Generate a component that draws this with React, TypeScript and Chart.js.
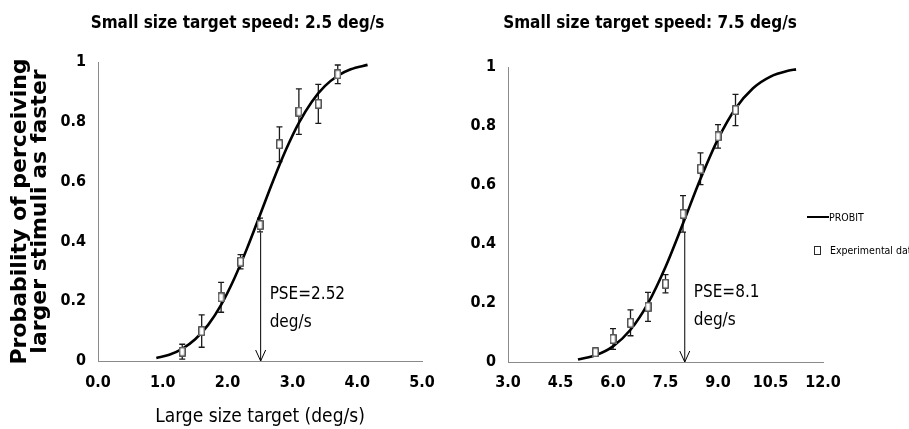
import React, { useEffect, useRef } from "react";
import { Chart, registerables } from "chart.js";

Chart.register(...registerables);

// ---------------- Data ----------------
const leftTitle = "Small size target speed: 2.5 deg/s";
const rightTitle = "Small size target speed: 7.5 deg/s";
const xAxisTitle = "Large size target (deg/s)";
const yAxisTitle = ["Probability of perceiving", "larger stimuli as faster"];
const legendLabels = ["PROBIT", "Experimental data"];

const leftXTicks = [0, 1, 2, 3, 4, 5];
const rightXTicks = [3, 4.5, 6, 7.5, 9, 10.5, 12];
const yTicks = [0, 0.2, 0.4, 0.6, 0.8, 1];

const leftDataX = [1.3, 1.6, 1.9, 2.2, 2.5, 2.8, 3.1, 3.4, 3.7];
const leftDataY = [0.031, 0.1, 0.213, 0.332, 0.455, 0.725, 0.834, 0.86, 0.959];
const leftDataErr = [0.025, 0.054, 0.05, 0.024, 0.023, 0.058, 0.076, 0.065, 0.031];
const leftCurveX = [0.9, 1.1, 1.3, 1.5, 1.7, 1.9, 2.1, 2.3, 2.5, 2.7, 2.9, 3.1, 3.3, 3.5, 3.7, 3.9, 4.16];
const leftCurveY = [0.0103, 0.0212, 0.0407, 0.0726, 0.1208, 0.1878, 0.2743, 0.3767, 0.4886, 0.6014, 0.7064, 0.7964, 0.8674, 0.9192, 0.9541, 0.9757, 0.9904];
const leftPSE = 2.51;
const leftPSELabel = ["PSE=2.52", "deg/s"];

const rightDataX = [5.5, 6.0, 6.5, 7.0, 7.5, 8.0, 8.5, 9.0, 9.5];
const rightDataY = [0.033, 0.078, 0.133, 0.187, 0.265, 0.502, 0.655, 0.765, 0.854];
const rightDataErr = [0.014, 0.035, 0.044, 0.049, 0.031, 0.062, 0.054, 0.04, 0.053];
const rightCurveX = [5.0, 5.5, 6.0, 6.5, 7.0, 7.5, 8.0, 8.5, 9.0, 9.5, 10.0, 10.5, 11.0, 11.23];
const rightCurveY = [0.0085, 0.0228, 0.0531, 0.1092, 0.1987, 0.3222, 0.4693, 0.6208, 0.7556, 0.8593, 0.9281, 0.9676, 0.9872, 0.992];
const rightPSE = 8.05;
const rightPSELabel = ["PSE=8.1", "deg/s"];

// ---------------- Styling ----------------
const COND = "'DejaVu Sans Condensed', 'DejaVu Sans', sans-serif";
const AXIS_GRAY = "#8a8a8a";

type PanelCfg = {
  title: string;
  xTicks: number[];
  dataX: number[];
  dataY: number[];
  dataErr: number[];
  curveX: number[];
  curveY: number[];
  pse: number;
  pseLabel: string[];
  arrowTop: number;
  labelY: number[];
  showXTitle: boolean;
  showYTitle: boolean;
  yWidth: number;
  xHeight: number;
  rightSpace: number;
  titleBottom: number;
  xTickPad: number;
};

const leftPanel: PanelCfg = {
  title: leftTitle,
  xTicks: leftXTicks,
  dataX: leftDataX,
  dataY: leftDataY,
  dataErr: leftDataErr,
  curveX: leftCurveX,
  curveY: leftCurveY,
  pse: leftPSE,
  pseLabel: leftPSELabel,
  arrowTop: 0.43,
  labelY: [0.221, 0.129],
  showXTitle: true,
  showYTitle: true,
  yWidth: 98,
  xHeight: 68,
  rightSpace: 53,
  titleBottom: 28.3,
  xTickPad: 11.9,
};

const rightPanel: PanelCfg = {
  title: rightTitle,
  xTicks: rightXTicks,
  dataX: rightDataX,
  dataY: rightDataY,
  dataErr: rightDataErr,
  curveX: rightCurveX,
  curveY: rightCurveY,
  pse: rightPSE,
  pseLabel: rightPSELabel,
  arrowTop: 0.44,
  labelY: [0.236, 0.141],
  showXTitle: false,
  showYTitle: false,
  yWidth: 68,
  xHeight: 67,
  rightSpace: 37,
  titleBottom: 33.3,
  xTickPad: 10.9,
};

function makeSquare(): HTMLCanvasElement {
  const c = document.createElement("canvas");
  c.width = 7;
  c.height = 10;
  const g = c.getContext("2d")!;
  g.fillStyle = "#ffffff";
  g.fillRect(0, 0, 7, 10);
  g.strokeStyle = "#2a2a2a";
  g.lineWidth = 1.2;
  g.strokeRect(0.8, 0.8, 5.4, 8.4);
  return c;
}

function overlayPlugin(p: PanelCfg) {
  return {
    id: "overlay",
    beforeDatasetsDraw(chart: any) {
      const { ctx, scales } = chart;
      const x = scales.x;
      const y = scales.y;
      ctx.save();
      // error bars
      ctx.strokeStyle = "#1a1a1a";
      ctx.lineWidth = 1.3;
      p.dataX.forEach((xv, i) => {
        const px = x.getPixelForValue(xv);
        const top = y.getPixelForValue(p.dataY[i] + p.dataErr[i]);
        const bot = y.getPixelForValue(p.dataY[i] - p.dataErr[i]);
        ctx.beginPath();
        ctx.moveTo(px, top);
        ctx.lineTo(px, bot);
        ctx.moveTo(px - 3, top);
        ctx.lineTo(px + 3, top);
        ctx.moveTo(px - 3, bot);
        ctx.lineTo(px + 3, bot);
        ctx.stroke();
      });
      // PSE arrow
      const ax = x.getPixelForValue(p.pse);
      const aTop = y.getPixelForValue(p.arrowTop);
      const aBot = y.getPixelForValue(0);
      ctx.strokeStyle = "#000";
      ctx.lineWidth = 1;
      ctx.beginPath();
      ctx.moveTo(ax, aTop);
      ctx.lineTo(ax, aBot);
      ctx.moveTo(ax - 5, aBot - 11);
      ctx.lineTo(ax, aBot);
      ctx.lineTo(ax + 5, aBot - 11);
      ctx.stroke();
      ctx.restore();
    },
    afterDatasetsDraw(chart: any) {
      const { ctx, scales } = chart;
      const x = scales.x;
      const y = scales.y;
      ctx.save();
      ctx.fillStyle = "#000";
      ctx.font = `17px ${COND}`;
      ctx.textAlign = "left";
      ctx.textBaseline = "middle";
      const ax = x.getPixelForValue(p.pse) + 9;
      p.pseLabel.forEach((t, i) => {
        ctx.fillText(t, ax, y.getPixelForValue(p.labelY[i]));
      });
      ctx.restore();
    },
  };
}

function buildConfig(p: PanelCfg): any {
  const square = makeSquare();
  const tickFont = { family: COND, size: 16, weight: "bold" as const };
  return {
    type: "scatter",
    data: {
      datasets: [
        {
          type: "scatter",
          label: legendLabels[1],
          data: p.dataX.map((v, i) => ({ x: v, y: p.dataY[i] })),
          pointStyle: square,
          pointRadius: 5,
          order: 0,
        },
        {
          type: "line",
          label: legendLabels[0],
          data: p.curveX.map((v, i) => ({ x: v, y: p.curveY[i] })),
          borderColor: "#000",
          borderWidth: 2.6,
          pointRadius: 0,
          fill: false,
          cubicInterpolationMode: "monotone",
          order: 1,
        },
      ],
    },
    options: {
      responsive: false,
      animation: false,
      events: [],
      layout: { padding: 0 },
      plugins: {
        legend: { display: false },
        tooltip: { enabled: false },
        title: {
          display: true,
          text: p.title,
          color: "#000",
          font: { family: COND, size: 17, weight: "bold", lineHeight: 1.2 },
          padding: { top: 13.3, bottom: p.titleBottom },
        },
      },
      scales: {
        x: {
          type: "linear",
          min: p.xTicks[0],
          max: p.xTicks[p.xTicks.length - 1],
          afterBuildTicks: (s: any) => {
            s.ticks = p.xTicks.map((v) => ({ value: v }));
          },
          afterFit: (s: any) => {
            s.height = p.xHeight;
          },
          ticks: {
            callback: (v: any) => Number(v).toFixed(1),
            color: "#000",
            font: tickFont,
            padding: p.xTickPad,
            maxRotation: 0,
            autoSkip: false,
          },
          grid: { display: false, drawTicks: false },
          border: { display: true, color: AXIS_GRAY, width: 1 },
          title: {
            display: p.showXTitle,
            text: xAxisTitle,
            color: "#000",
            font: { family: COND, size: 19, lineHeight: 1.2 },
            padding: { top: 0, bottom: 1 },
          },
        },
        y: {
          type: "linear",
          min: 0,
          max: 1,
          afterBuildTicks: (s: any) => {
            s.ticks = yTicks.map((v) => ({ value: v }));
          },
          afterFit: (s: any) => {
            s.width = p.yWidth;
          },
          ticks: {
            callback: (v: any) => String(Math.round(Number(v) * 10) / 10),
            color: "#000",
            font: tickFont,
            padding: 12,
          },
          grid: { display: false, drawTicks: false },
          border: { display: true, color: AXIS_GRAY, width: 1 },
          title: {
            display: p.showYTitle,
            text: yAxisTitle,
            color: "#000",
            font: { family: "'DejaVu Sans', sans-serif", size: 22, weight: "bold", lineHeight: "20px" },
            padding: { top: 10, bottom: 0 },
          },
        },
        // empty spacer on the right so the full-width title stays centred like the figure
        spacer: {
          type: "linear",
          position: "right",
          display: true,
          min: 0,
          max: 1,
          afterFit: (s: any) => {
            s.width = p.rightSpace;
          },
          ticks: { display: false },
          grid: { display: false, drawTicks: false },
          border: { display: false },
          title: { display: false },
        },
      },
    },
    plugins: [overlayPlugin(p)],
  };
}

function PanelChart(props: { panel: PanelCfg; left: number; width: number }) {
  const ref = useRef<HTMLCanvasElement>(null);
  useEffect(() => {
    const chart = new Chart(ref.current as HTMLCanvasElement, buildConfig(props.panel));
    return () => chart.destroy();
  }, []);
  return (
    <canvas
      ref={ref}
      width={props.width}
      height={429}
      style={{ position: "absolute", left: props.left, top: 0, width: props.width, height: 429 }}
    />
  );
}

export default function App() {
  const legendFont = `10.5px ${COND}`;
  return (
    <div
      style={{
        position: "absolute",
        left: 0,
        top: 0,
        width: 909,
        height: 429,
        overflow: "hidden",
        background: "#ffffff",
      }}
    >
      <PanelChart panel={leftPanel} left={0} width={475} />
      <PanelChart panel={rightPanel} left={440} width={420} />
      <div
        style={{
          position: "absolute",
          left: 807,
          top: 208,
          height: 18,
          display: "flex",
          alignItems: "center",
          font: legendFont,
          color: "#000",
          whiteSpace: "nowrap",
        }}
      >
        <span style={{ display: "inline-block", width: 22, height: 2, background: "#000" }} />
        <span>{legendLabels[0]}</span>
      </div>
      <div
        style={{
          position: "absolute",
          left: 814,
          top: 241,
          height: 18,
          display: "flex",
          alignItems: "center",
          font: legendFont,
          color: "#000",
          whiteSpace: "nowrap",
        }}
      >
        <span
          style={{
            display: "inline-block",
            width: 7,
            height: 9,
            border: "1px solid #2a2a2a",
            boxSizing: "border-box",
            marginRight: 9,
          }}
        />
        <span>{legendLabels[1]}</span>
      </div>
    </div>
  );
}
